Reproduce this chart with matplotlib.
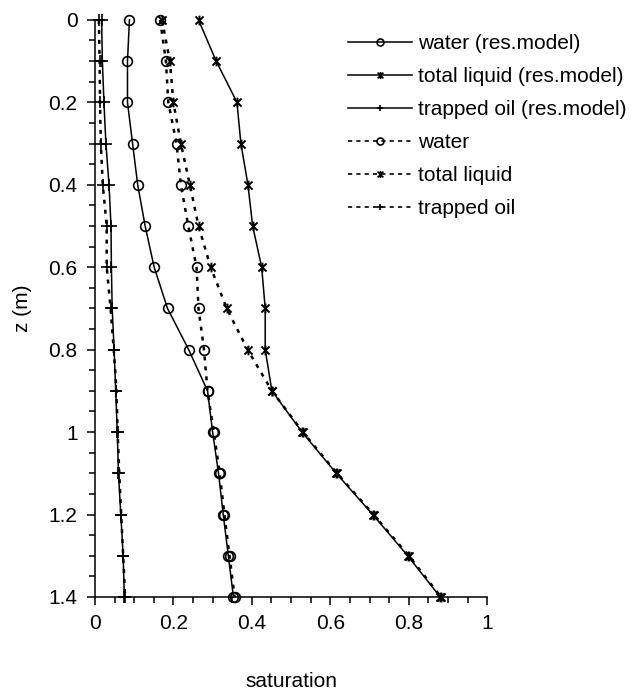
import numpy as np
import matplotlib
matplotlib.use('Agg')
import matplotlib.pyplot as plt
from matplotlib.path import Path
from matplotlib.lines import Line2D
from matplotlib.ticker import MultipleLocator, FuncFormatter

plt.rcParams['font.family'] = ['Liberation Sans', 'DejaVu Sans']

# depth (m)
z = [0.0, 0.1, 0.2, 0.3, 0.4, 0.5, 0.6, 0.7, 0.8, 0.9, 1.0, 1.1, 1.2, 1.3, 1.4]

# reservoir model results
water_model = [0.088, 0.083, 0.083, 0.096, 0.109, 0.128, 0.151, 0.185, 0.239, 0.287,
               0.300, 0.315, 0.327, 0.340, 0.353]
liquid_model = [0.264, 0.309, 0.362, 0.372, 0.390, 0.402, 0.425, 0.434, 0.434, 0.451,
                0.528, 0.615, 0.708, 0.797, 0.880]
oil_model = [0.017, 0.019, 0.023, 0.028, 0.036, 0.041, 0.042, 0.044, 0.049, 0.053,
             0.057, 0.060, 0.066, 0.072, 0.075]

# measured
water_exp = [0.166, 0.181, 0.187, 0.208, 0.219, 0.238, 0.259, 0.264, 0.278, 0.287,
             0.303, 0.318, 0.330, 0.343, 0.356]
liquid_exp = [0.171, 0.191, 0.200, 0.219, 0.242, 0.264, 0.295, 0.336, 0.389, 0.451,
              0.530, 0.617, 0.710, 0.800, 0.882]
oil_exp = [0.010, 0.012, 0.013, 0.015, 0.020, 0.030, 0.030, 0.040, 0.048, 0.055,
           0.058, 0.062, 0.067, 0.072, 0.077]

labels = ['water (res.model)', 'total liquid (res.model)', 'trapped oil (res.model)',
          'water', 'total liquid', 'trapped oil']

# excel-like "x with a bar" star marker
star = Path([(-1, -1), (1, 1), (-1, 1), (1, -1), (0, -1.2), (0, 1.2)],
            [Path.MOVETO, Path.LINETO, Path.MOVETO, Path.LINETO, Path.MOVETO, Path.LINETO])

FS = 15

fig = plt.figure(figsize=(6.37, 6.97), dpi=100)
ax = fig.add_axes([0.149, 0.1435, 0.616, 0.828])

solid = dict(color='black', lw=1.1, ls='-', mfc='none', mec='black', clip_on=False)
dotted = dict(color='black', lw=1.8, ls=(0, (1.6, 2.4)), mfc='none', mec='black',
              clip_on=False)
mk = [dict(marker='o', ms=7, mew=1.2),
      dict(marker=star, ms=7, mew=1.4),
      dict(marker='+', ms=9, mew=1.2)]

series = [water_model, liquid_model, oil_model, water_exp, liquid_exp, oil_exp]
for i, s in enumerate(series):
    style = solid if i < 3 else dotted
    ax.plot(s, z, **style, **mk[i % 3], zorder=3 if i < 3 else 2)

ax.set_xlim(0, 1)
ax.set_ylim(1.4, 0)
for side in ('top', 'right'):
    ax.spines[side].set_visible(False)
for side in ('left', 'bottom'):
    ax.spines[side].set_linewidth(1.1)

fmt = FuncFormatter(lambda v, p: f'{v:g}')
ax.xaxis.set_major_locator(MultipleLocator(0.2))
ax.xaxis.set_minor_locator(MultipleLocator(0.05))
ax.yaxis.set_major_locator(MultipleLocator(0.2))
ax.yaxis.set_minor_locator(MultipleLocator(0.05))
ax.xaxis.set_major_formatter(fmt)
ax.yaxis.set_major_formatter(fmt)
ax.tick_params(which='major', length=5.5, width=1.1, labelsize=FS, pad=7)
ax.tick_params(which='minor', length=4.5, width=1.1)

ax.set_xlabel('saturation', fontsize=FS, labelpad=28)
ax.set_ylabel('z (m)', fontsize=FS, labelpad=12)

handles = []
for i in range(6):
    if i < 3:
        h = Line2D([], [], color='black', lw=1.1, ls='-', mfc='none', mec='black',
                   marker=mk[i]['marker'], ms=5, mew=1.2)
    else:
        h = Line2D([], [], color='black', lw=1.2, ls=(0, (2.5, 2.5)), mfc='none',
                   mec='black', marker=mk[i % 3]['marker'], ms=5, mew=1.2)
    handles.append(h)
fig.legend(handles, labels, loc='upper left', bbox_to_anchor=(0.546, 0.951),
           frameon=False, fontsize=FS, handlelength=3.1, handletextpad=0.25,
           labelspacing=0.67, borderpad=0, borderaxespad=0)

fig.savefig('out.png', dpi=100)
